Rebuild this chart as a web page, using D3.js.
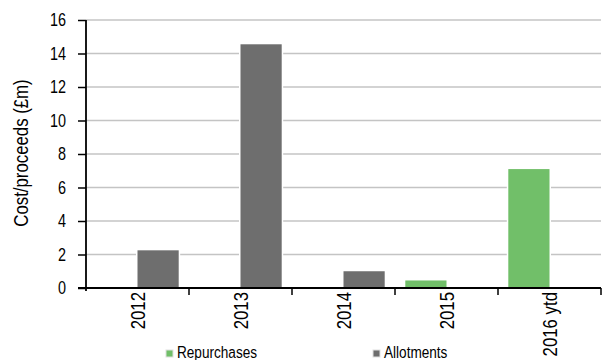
<!DOCTYPE html>
<html>
<head>
<meta charset="utf-8">
<script src="https://cdn.jsdelivr.net/npm/d3@7"></script>
<style>
    body { margin: 0; background: #fff; }
    text { font-family: "Liberation Sans", Arial, sans-serif; fill: #000; }
</style>
</head>
<body>
<div id="chart"></div>
<script>
const categories = ["2012", "2013", "2014", "2015", "2016 ytd"];
const seriesNames = ["Repurchases", "Allotments"];
const repurchases = [0, 0, 0, 0.45, 7.1];
const allotments = [2.25, 14.55, 1.0, 0, 0];
const yTicks = [0, 2, 4, 6, 8, 10, 12, 14, 16];
const colours = { "Repurchases": "#71bf69", "Allotments": "#6e6e6e" };

var width = 611, height = 360;
var margin = { left: 86, right: 10, top: 20, bottom: 72 };
var narrow = "scale(0.8,1)"; // no narrow font installed, squeeze Liberation Sans instead

var svg = d3.select("#chart").append("svg")
    .attr("width", width)
    .attr("height", height);

svg.append("rect").attr("width", width).attr("height", height).attr("fill", "#fff");

var x = d3.scaleBand()
    .domain(categories)
    .range([margin.left, width - margin.right])
    .padding(0);

var xInner = d3.scaleBand()
    .domain(seriesNames)
    .range([0, x.bandwidth()])
    .paddingInner(0)
    .paddingOuter(0.25);

var y = d3.scaleLinear()
    .domain([0, 16])
    .range([height - margin.bottom, margin.top]);

// gridlines
svg.append("g")
    .selectAll("line")
    .data(yTicks.filter(d => d > 0))
    .join("line")
    .attr("x1", margin.left)
    .attr("x2", width - margin.right)
    .attr("y1", d => y(d))
    .attr("y2", d => y(d))
    .attr("stroke", "#c4c4c4")
    .attr("stroke-width", 1.5);

// bars
var rows = [];
categories.forEach((c, i) => {
    rows.push({ cat: c, series: "Repurchases", value: repurchases[i] });
    rows.push({ cat: c, series: "Allotments", value: allotments[i] });
});

svg.append("g")
    .selectAll("rect")
    .data(rows.filter(d => d.value > 0))
    .join("rect")
    .attr("x", d => x(d.cat) + xInner(d.series))
    .attr("y", d => y(d.value))
    .attr("width", xInner.bandwidth())
    .attr("height", d => y(0) - y(d.value))
    .attr("fill", d => colours[d.series])
    .attr("stroke", "#fff")
    .attr("stroke-width", 3)
    .attr("paint-order", "stroke");

// y axis
var yAxis = svg.append("g")
    .attr("transform", "translate(" + margin.left + ",0)")
    .call(d3.axisLeft(y).tickValues(yTicks).tickSize(8).tickPadding(11).tickFormat(d3.format("d")));
yAxis.select(".domain").attr("stroke", "#000").attr("stroke-width", 1.8).attr("d", "M0," + margin.top + "V" + (y(0) + 3));
yAxis.selectAll(".tick line").attr("stroke", "#000").attr("stroke-width", 1.5);
yAxis.selectAll("text")
    .attr("x", null)
    .attr("transform", "translate(-20,0) " + narrow)
    .style("font-size", "18px")
    .attr("fill", "#111");

// x axis
var xAxis = svg.append("g")
    .attr("transform", "translate(0," + y(0) + ")");
xAxis.append("line")
    .attr("x1", margin.left - 8)
    .attr("x2", width - margin.right)
    .attr("stroke", "#000")
    .attr("stroke-width", 1.8);
xAxis.selectAll(".xtick")
    .data(categories)
    .join("line")
    .attr("class", "xtick")
    .attr("x1", d => x(d) + x.bandwidth())
    .attr("x2", d => x(d) + x.bandwidth())
    .attr("y1", 0)
    .attr("y2", 7)
    .attr("stroke", "#000")
    .attr("stroke-width", 1.5);
xAxis.selectAll(".xlabel")
    .data(categories)
    .join("text")
    .attr("class", "xlabel")
    .attr("transform", d => "translate(" + (x(d) + x.bandwidth() / 2) + ",4) rotate(-90) " + narrow)
    .attr("dy", "0.35em")
    .attr("text-anchor", "end")
    .attr("fill", "#111")
    .style("font-size", "21px")
    .text(d => d);

// y title
svg.append("text")
    .attr("transform", "translate(28," + ((y(0) + y(16)) / 2 - 1) + ") rotate(-90) " + narrow)
    .attr("text-anchor", "middle")
    .attr("fill", "#111")
    .style("font-size", "21px")
    .text("Cost/proceeds (£m)");

// legend
var legendX = [166, 373];
var legend = svg.append("g")
    .selectAll("g")
    .data(seriesNames)
    .join("g")
    .attr("transform", (d, i) => "translate(" + legendX[i] + ",350)");
legend.append("rect")
    .attr("width", 7)
    .attr("height", 7)
    .attr("fill", d => colours[d])
    .attr("stroke", "#e0e0e0")
    .attr("stroke-width", 1);
legend.append("text")
    .attr("transform", "translate(11,8) " + narrow)
    .attr("fill", "#111")
    .style("font-size", "17px")
    .text(d => d);
</script>
</body>
</html>
